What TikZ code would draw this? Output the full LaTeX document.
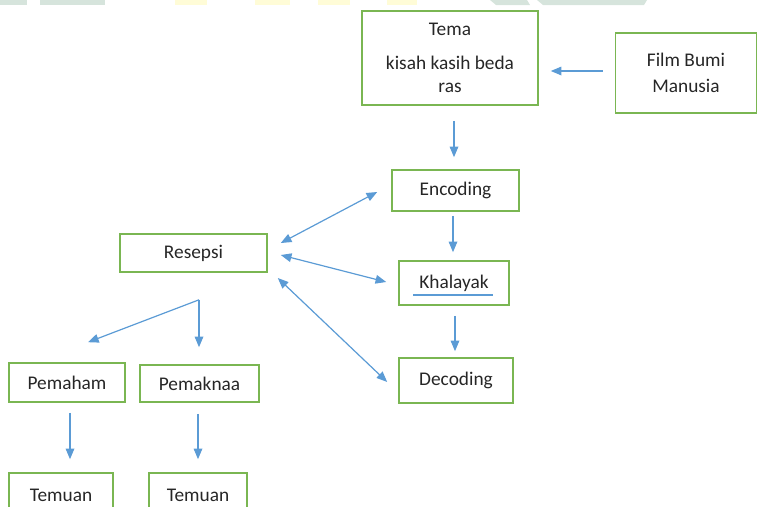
\documentclass[tikz,border=0pt]{standalone}
\usepackage{fontspec}
\setmainfont{Carlito}
\usetikzlibrary{arrows.meta,calc}
\definecolor{boxgreen}{RGB}{122,182,82}
\definecolor{arrblue}{RGB}{91,155,213}
\definecolor{txt}{RGB}{38,38,38}
\definecolor{wmgreen}{RGB}{214,228,220}
\definecolor{wmyellow}{RGB}{255,252,215}
\begin{document}
\begin{tikzpicture}[x=0.75pt,y=-0.75pt,
  box/.style={draw=boxgreen,line width=1.2pt,text=txt,font=\fontsize{14.5}{17.5}\selectfont,inner sep=0pt,align=center},
  arr/.style={draw=arrblue,line width=0.9pt,-{Triangle[length=8pt,width=6.5pt]}},
  darr/.style={draw=arrblue,line width=0.9pt,{Triangle[length=8pt,width=6.5pt]}-{Triangle[length=8pt,width=6.5pt]}},
  wm/.style={fill=#1,draw=none}]
\useasboundingbox (0,0) rectangle (757,507);
\clip (0,0) rectangle (757,507);
% faint watermark fragments at the top edge
\fill[wm=wmgreen] (0,0) rectangle (27,5);
\fill[wm=wmgreen] (40,0) rectangle (105,5);
\fill[wm=wmyellow] (175,0) rectangle (207,5);
\fill[wm=wmyellow] (255,0) rectangle (290,5);
\fill[wm=wmyellow] (318,0) rectangle (350,5);
\fill[wm=wmyellow] (387,0) rectangle (417,5);
\fill[wm=wmgreen] (490,0) -- (527,0) -- (530,5) -- (496,5) -- cycle;
\fill[wm=wmgreen] (537,0) -- (647,0) -- (644,5) -- (543,5) -- cycle;

% boxes
\node[box,minimum width=132pt,minimum height=70.5pt] (tema) at (450,58) {Tema\\[8pt]kisah kasih beda\\ras};
\node[box,minimum width=105.75pt,minimum height=60pt] (film) at (686,73) {Film Bumi\\[2pt]Manusia};
\node[box,minimum width=95.25pt,minimum height=30.75pt] (enc) at (455.5,190.5) {Encoding};
\node[box,minimum width=82.5pt,minimum height=33pt] (kha) at (454,283) {Khalayak};
\node[box,minimum width=85.5pt,minimum height=33.75pt] (dec) at (456,380.5) {Decoding};
\node[box,minimum width=110.25pt,minimum height=28.5pt] (res) at (193.5,253) {Resepsi};
\node[box,minimum width=87pt,minimum height=29.25pt] (pmh) at (67,382.5) {Pemaham};
\node[box,minimum width=89.25pt,minimum height=27.75pt] (pmk) at (199.5,383.5) {Pemaknaa};
\node[box,minimum width=78pt,minimum height=33pt] (tem1) at (61,495) {Temuan};
\node[box,minimum width=73.5pt,minimum height=33pt] (tem2) at (198,495) {Temuan};

% underline under Khalayak
\draw[arrblue,line width=1.5pt] ($(kha.center)+(-41,12)$) -- ($(kha.center)+(39,12)$);

% connectors
\draw[arr] ($(film.west)+(-12,-2)$) -- ($(tema.east)+(12,13)$);
\draw[arr] ($(tema.south)+(4,15)$) -- ($(enc.north)+(-1.5,-12)$);
\draw[arr] ($(enc.south)+(-2.5,4)$) -- ($(kha.north)+(-1,-8)$);
\draw[arr] ($(kha.south)+(1,10)$) -- ($(dec.north)+(-1,-6)$);

\draw[darr] ($(res.east)+(13,-10)$) -- ($(enc.west)+(-14,1.5)$);
\draw[darr] ($(res.east)+(13,2)$) -- ($(kha.west)+(-12,-1)$);
\draw[darr] ($(res.east)+(10,25)$) -- ($(dec.west)+(-11,1.5)$);

\coordinate (split) at ($(res.south)+(5.5,27)$);
\draw[arr] (split) -- ($(pmh.north)+(21,-20)$);
\draw[arr] (split) -- ($(pmk.north)+(-0.5,-17)$);

\draw[arr] ($(pmh.south)+(3,10)$) -- ($(tem1.north)+(9,-13)$);
\draw[arr] ($(pmk.south)+(-1.5,11)$) -- ($(tem2.north)+(0,-13)$);
\end{tikzpicture}
\end{document}
